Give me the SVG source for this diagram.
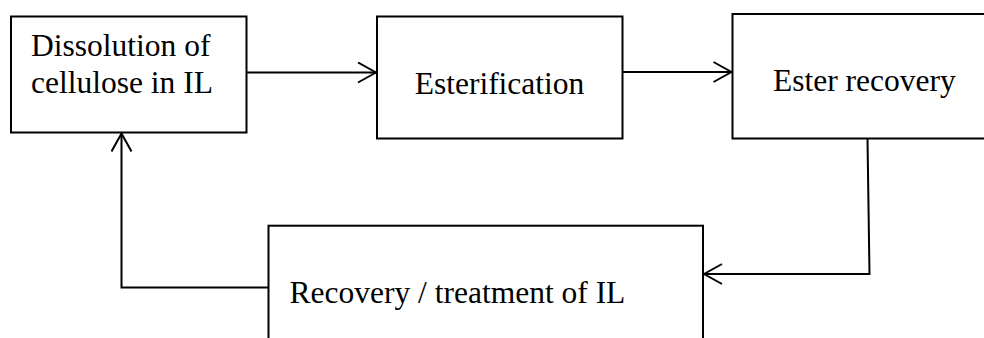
<svg xmlns="http://www.w3.org/2000/svg" width="984" height="338" viewBox="0 0 984 338">
<style>
.box{fill:#fff;stroke:#000;stroke-width:2}
.lbl{font-family:"Liberation Serif","Times New Roman",serif;font-size:31.5px;fill:#000}
.conn{fill:none;stroke:#000;stroke-width:2}
</style>
<defs>
<marker id="arr" viewBox="0 0 20 22" refX="19" refY="11" markerWidth="20" markerHeight="22" markerUnits="userSpaceOnUse" orient="auto">
<path d="M1,1 L19,11 L1,21" fill="none" stroke="#000" stroke-width="2"/>
</marker>
</defs>
<rect width="984" height="338" fill="#fff"/>
<g id="node-dissolution">
<rect class="box" x="11" y="16.5" width="235.5" height="116"/>
<text class="lbl" x="31" y="56">Dissolution of</text>
<text class="lbl" x="31" y="93">cellulose in IL</text>
</g>
<g id="node-esterification">
<rect class="box" x="377" y="16.5" width="245.5" height="122"/>
<text class="lbl" x="499.5" y="94" text-anchor="middle">Esterification</text>
</g>
<g id="node-ester-recovery">
<rect class="box" x="732.5" y="14" width="270" height="124.5"/>
<text class="lbl" x="773" y="90.5">Ester recovery</text>
</g>
<g id="node-il-recovery">
<rect class="box" x="268.5" y="225.7" width="434.5" height="130"/>
<text class="lbl" x="289.5" y="302.5">Recovery / treatment of IL</text>
</g>
<g id="connectors">
<path class="conn" d="M246.5,72.5 L376,72.5" marker-end="url(#arr)"/>
<path class="conn" d="M622.5,72 L731.5,72" marker-end="url(#arr)"/>
<path class="conn" d="M867.5,138.5 L869.5,274 L704,274" marker-end="url(#arr)"/>
<path class="conn" d="M268.5,287.5 L121.5,287.5 L121.5,133.5" marker-end="url(#arr)"/>
</g>
</svg>
